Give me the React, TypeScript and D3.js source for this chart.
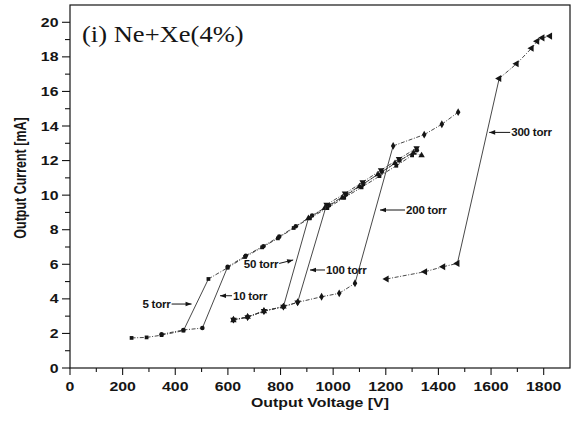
import { useEffect, useRef } from "react";
import * as d3 from "d3";

type Pt = [number, number];

// output voltage [V], output current [mA]
const torr5: Pt[] = [
  [234, 1.74], [291, 1.77], [348, 1.9], [431, 2.16], [526, 5.15], [599, 5.8],
  [665, 6.42], [730, 6.98], [790, 7.5], [850, 8.1], [912, 8.68], [978, 9.25],
  [1042, 9.85], [1108, 10.45], [1176, 11.1], [1240, 11.7], [1300, 12.3],
];
const torr10: Pt[] = [
  [348, 1.95], [431, 2.2], [503, 2.31], [599, 5.85], [668, 6.5], [735, 7.05],
  [795, 7.6], [858, 8.2], [920, 8.82], [985, 9.42], [1050, 10.05], [1115, 10.65],
  [1185, 11.35], [1252, 12.0], [1318, 12.6],
];
const torr50: Pt[] = [
  [621, 2.75], [675, 2.95], [737, 3.28], [811, 3.55], [906, 8.66], [968, 9.25],
  [1035, 9.85], [1100, 10.5], [1170, 11.2], [1235, 11.85], [1305, 12.45], [1336, 12.3],
];
const torr100: Pt[] = [
  [621, 2.8], [675, 2.95], [737, 3.3], [811, 3.55], [865, 3.8], [975, 9.45],
  [1045, 10.1], [1112, 10.75], [1182, 11.45], [1250, 12.1], [1317, 12.72],
];
const torr200: Pt[] = [
  [621, 2.8], [675, 2.95], [737, 3.3], [811, 3.55], [865, 3.8], [956, 4.12],
  [1023, 4.32], [1083, 4.9], [1228, 12.85], [1346, 13.5], [1413, 14.1], [1475, 14.8],
];
const torr300: Pt[] = [
  [1203, 5.15], [1349, 5.57], [1418, 5.86], [1472, 6.05], [1631, 16.75], [1697, 17.6],
  [1754, 18.5], [1775, 18.9], [1795, 19.1], [1824, 19.2],
];

const seriesNames = ["5 torr", "10 torr", "50 torr", "100 torr", "200 torr", "300 torr"];
const seriesData = [torr5, torr10, torr50, torr100, torr200, torr300];
// index of the first point after the breakdown jump
const jumpIndex = [4, 3, 4, 5, 8, 4];

const xTickValues = [0, 200, 400, 600, 800, 1000, 1200, 1400, 1600, 1800];
const yTickValues = [0, 2, 4, 6, 8, 10, 12, 14, 16, 18, 20];

// arrow tip in data units for each pressure label
const labelTipV = [462, 570, 848, 912, 1178, 1593];
const labelTipI = [3.7, 4.18, 6.25, 5.67, 9.14, 13.63];

const W = 574;
const H = 425;
const SX = 1.27; // the scanned figure is stretched horizontally
const SANS = "'Liberation Sans', Arial, sans-serif";

export default function App() {
  const svgRef = useRef<SVGSVGElement>(null);

  useEffect(() => {
    const svgEl = svgRef.current;
    if (!svgEl) return;
    const root = d3.select(svgEl);
    root.selectAll("*").remove();

    const x = d3.scaleLinear().domain([0, 1900]).range([70, 570]);
    const y = d3.scaleLinear().domain([0, 21]).range([368, 5]);
    const ink = "#151515";

    const stretched = (tx: number, ty: number, extra = "", sx = SX) =>
      `translate(${tx},${ty}) scale(${sx},1)${extra}`;

    // frame
    root.append("rect")
      .attr("x", 70).attr("y", 5).attr("width", 500).attr("height", 363)
      .attr("fill", "none").attr("stroke", ink).attr("stroke-width", 1.2);

    // x ticks
    const xMinor = d3.range(100, 1900, 200);
    root.append("g").selectAll("line").data(xTickValues).join("line")
      .attr("x1", (d) => x(d)).attr("x2", (d) => x(d))
      .attr("y1", 368).attr("y2", 375).attr("stroke", ink).attr("stroke-width", 1.1);
    root.append("g").selectAll("line").data(xMinor).join("line")
      .attr("x1", (d) => x(d)).attr("x2", (d) => x(d))
      .attr("y1", 368).attr("y2", 372).attr("stroke", ink).attr("stroke-width", 1.1);
    root.append("g").selectAll("text").data(xTickValues).join("text")
      .attr("transform", (d) => stretched(x(d), 390.5))
      .attr("text-anchor", "middle").attr("font-family", SANS).attr("font-weight", "bold")
      .attr("font-size", 12.5).attr("fill", ink).text((d) => String(d));

    // y ticks
    const yMinor = d3.range(1, 21, 2);
    root.append("g").selectAll("line").data(yTickValues).join("line")
      .attr("x1", 62).attr("x2", 70)
      .attr("y1", (d) => y(d)).attr("y2", (d) => y(d)).attr("stroke", ink).attr("stroke-width", 1.1);
    root.append("g").selectAll("line").data(yMinor).join("line")
      .attr("x1", 65).attr("x2", 70)
      .attr("y1", (d) => y(d)).attr("y2", (d) => y(d)).attr("stroke", ink).attr("stroke-width", 1.1);
    root.append("g").selectAll("text").data(yTickValues).join("text")
      .attr("transform", (d) => stretched(58.5, y(d) + 4.5))
      .attr("text-anchor", "end").attr("font-family", SANS).attr("font-weight", "bold")
      .attr("font-size", 12.5).attr("fill", ink).text((d) => String(d));

    // axis titles
    root.append("text")
      .attr("transform", stretched(320, 407))
      .attr("text-anchor", "middle").attr("font-family", SANS).attr("font-weight", "bold")
      .attr("font-size", 12.5).attr("fill", ink).text("Output Voltage [V]");
    root.append("text")
      .attr("transform", stretched(26, 178, " rotate(-90)"))
      .attr("text-anchor", "middle").attr("font-family", SANS).attr("font-weight", "bold")
      .attr("font-size", 12.5).attr("fill", ink).text("Output Current [mA]");

    // panel title
    root.append("text")
      .attr("transform", `translate(82,42) scale(1.13,1)`)
      .attr("font-family", "'Liberation Serif', 'Times New Roman', serif")
      .attr("font-size", 23.5).attr("fill", ink).text("(i) Ne+Xe(4%)");

    // series
    const line = d3.line<Pt>().x((d) => x(d[0])).y((d) => y(d[1]));
    const symbols = [
      { type: d3.symbolSquare, size: 14, rot: 0 },
      { type: d3.symbolCircle, size: 16, rot: 0 },
      { type: d3.symbolTriangle, size: 18, rot: 0 },
      { type: d3.symbolTriangle, size: 18, rot: 180 },
      { type: d3.symbolDiamond, size: 18, rot: 0 },
      { type: d3.symbolTriangle, size: 22, rot: -90 },
    ];

    seriesData.forEach((pts, si) => {
      const g = root.append("g");
      for (let i = 1; i < pts.length; i++) {
        const jump = i === jumpIndex[si];
        g.append("path")
          .attr("d", line([pts[i - 1], pts[i]]))
          .attr("fill", "none")
          .attr("stroke", "#333")
          .attr("stroke-width", 0.9)
          .attr("stroke-dasharray", jump ? null : "4,1.6,1,1.6");
      }
      const sym = symbols[si];
      g.selectAll("path.m").data(pts).join("path")
        .attr("class", "m")
        .attr("transform", (d) => `translate(${x(d[0])},${y(d[1])}) rotate(${sym.rot})`)
        .attr("d", d3.symbol().type(sym.type).size(sym.size)())
        .attr("fill", ink);
    });

    // pressure labels with arrows
    const arrowLen = [20, 12, 14, 15, 25, 21];
    const tailDy = [0, 0, 3.5, 0, 0, 0];
    const textOnLeft = [true, false, true, false, false, false];
    seriesNames.forEach((name, i) => {
      const tx = x(labelTipV[i]);
      const ty = y(labelTipI[i]);
      const dir = textOnLeft[i] ? -1 : 1;
      const tailX = tx + dir * arrowLen[i];
      const tailY = ty + tailDy[i];
      const ang = Math.atan2(tailY - ty, tailX - tx);
      const ux = Math.cos(ang);
      const uy = Math.sin(ang);
      const g = root.append("g");
      g.append("line")
        .attr("x1", tx).attr("y1", ty).attr("x2", tailX).attr("y2", tailY)
        .attr("stroke", ink).attr("stroke-width", 1);
      g.append("path")
        .attr("d", `M${tx},${ty} L${tx + ux * 6 - uy * 2.3},${ty + uy * 6 + ux * 2.3} L${tx + ux * 6 + uy * 2.3},${ty + uy * 6 - ux * 2.3} Z`)
        .attr("fill", ink);
      g.append("text")
        .attr("transform", stretched(tailX + dir * 1, tailY + 3.8 + (tailDy[i] ? 1 : 0), "", 1.1))
        .attr("text-anchor", textOnLeft[i] ? "end" : "start")
        .attr("font-family", SANS).attr("font-weight", "bold")
        .attr("font-size", 10.5).attr("letter-spacing", -0.2).attr("fill", ink)
        .text(name);
    });
  }, []);

  return (
    <div>
      <style>{`body{margin:0;background:#fff}`}</style>
      <svg ref={svgRef} width={W} height={H} style={{ display: "block" }} />
    </div>
  );
}
